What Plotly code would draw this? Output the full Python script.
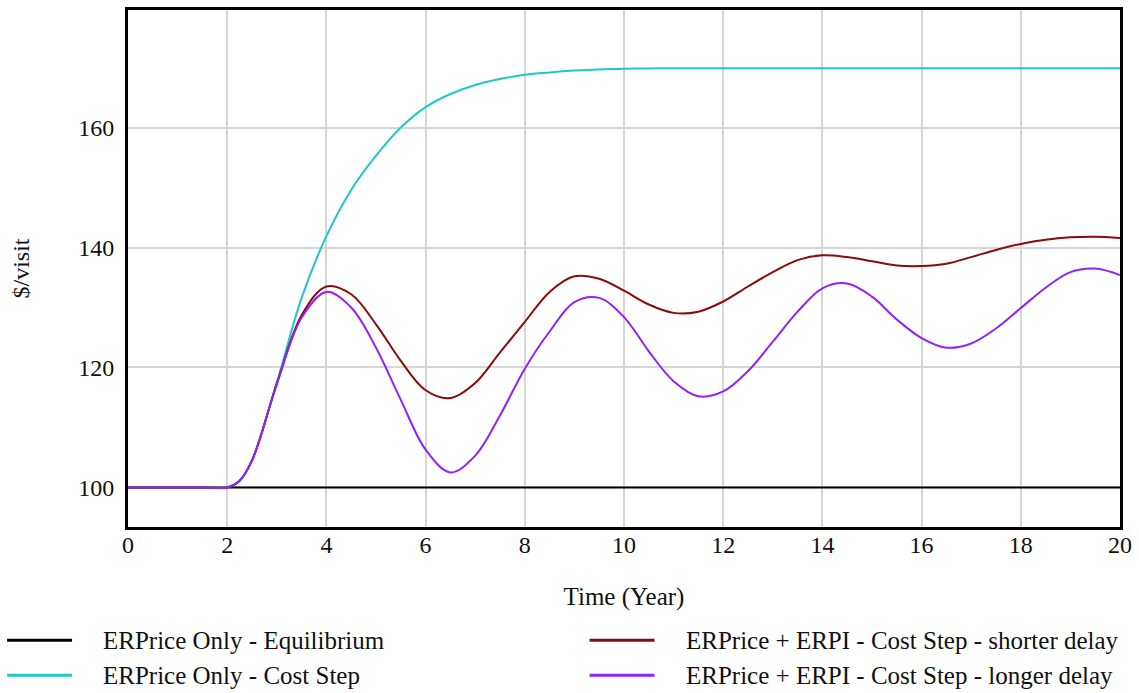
import plotly.graph_objects as go

# Simulation output, sampled every half year (extra sample just after the step at t=2)
time = [0, 0.5, 1, 1.5, 2, 2.25, 2.5, 3, 3.5, 4, 4.5, 5, 5.5, 6, 6.5, 7, 7.5, 8, 8.5, 9,
        9.5, 10, 10.5, 11, 11.5, 12, 12.5, 13, 13.5, 14, 14.5, 15, 15.5, 16, 16.5, 17,
        17.5, 18, 18.5, 19, 19.5, 20]

equilibrium = [100] * len(time)

cost_step = [100, 100, 100, 100, 100, 101.1, 104.5, 117.5, 131.6, 141.9, 149.6, 155.3,
             160.0, 163.4, 165.6, 167.1, 168.1, 168.8, 169.2, 169.5, 169.7, 169.8, 169.85,
             169.9, 169.9, 169.9, 169.9, 169.9, 169.9, 169.9, 169.9, 169.9, 169.9, 169.9,
             169.9, 169.9, 169.9, 169.9, 169.9, 169.9, 169.9, 169.9]

shorter_delay = [100, 100, 100, 100, 100, 101.1, 104.5, 117.3, 128.7, 133.5, 132.2, 127.2,
                 121.1, 116.2, 114.9, 117.4, 122.5, 127.6, 132.6, 135.2, 134.8, 132.8,
                 130.5, 129.1, 129.3, 131.0, 133.5, 135.9, 137.9, 138.7, 138.4, 137.7,
                 137.0, 136.9, 137.3, 138.4, 139.6, 140.6, 141.3, 141.7, 141.8, 141.6]

longer_delay = [100, 100, 100, 100, 100, 101.1, 104.5, 117.2, 128.3, 132.6, 130.0, 123.3,
                114.6, 106.3, 102.5, 105.3, 112.0, 119.8, 126.0, 130.9, 131.6, 128.4,
                122.7, 117.7, 115.2, 116.0, 119.4, 124.3, 129.3, 133.2, 134.0, 131.8,
                128.0, 124.9, 123.3, 124.0, 126.5, 129.9, 133.3, 135.9, 136.5, 135.4]

names = ["ERPrice Only - Equilibrium", "ERPrice Only - Cost Step",
         "ERPrice + ERPI - Cost Step - shorter delay", "ERPrice + ERPI - Cost Step - longer delay"]
colors = ["#000000", "#1ec8c8", "#8b0a0a", "#8f22ff"]
series = [equilibrium, cost_step, shorter_delay, longer_delay]

x_ticks = list(range(0, 21, 2))
y_ticks = [100, 120, 140, 160]

W, H = 1139, 693
L, R, T, B = 128, 18, 7, 166
FONT = "Liberation Serif, Times New Roman, serif"

fig = go.Figure()
for name, color, ys in zip(names, colors, series):
    fig.add_trace(go.Scatter(
        x=time, y=ys, name=name, mode="lines",
        line=dict(color=color, width=2, shape="spline", smoothing=1.0),
        showlegend=False,
    ))

# Legend drawn below the plot: two columns, long line samples
pw, ph = W - L - R, H - T - B


def px_x(px):
    return (px - L) / pw


def px_y(py):
    return (H - B - py) / ph


legend_slots = [(7, 72, 101, 641), (7, 72, 101, 676), (590, 655, 685, 641), (590, 655, 685, 676)]
shapes = []
annotations = []
for (x0, x1, xt, yc), name, color in zip(legend_slots, names, colors):
    shapes.append(dict(type="line", xref="paper", yref="paper",
                       x0=px_x(x0), x1=px_x(x1), y0=px_y(yc), y1=px_y(yc),
                       line=dict(color=color, width=3)))
    annotations.append(dict(xref="paper", yref="paper", x=px_x(xt), y=px_y(yc),
                            text=name, showarrow=False, xanchor="left", yanchor="middle",
                            font=dict(family=FONT, size=25, color="#111111")))

fig.update_layout(
    width=W, height=H,
    margin=dict(l=L, r=R, t=T, b=B),
    paper_bgcolor="white", plot_bgcolor="white",
    font=dict(family=FONT, size=24, color="#111111"),
    shapes=shapes, annotations=annotations,
    xaxis=dict(range=[0, 20], tickvals=x_ticks, showgrid=True, gridcolor="#d6d6d6",
               gridwidth=1.5, zeroline=False, showline=True, linecolor="black",
               linewidth=3, mirror=True, ticks="", ticklabelstandoff=-6,
               title=dict(text="Time (Year)", standoff=31, font=dict(size=25))),
    yaxis=dict(range=[93.4, 179.6], tickvals=y_ticks, showgrid=True, gridcolor="#d6d6d6",
               gridwidth=1.5, zeroline=False, showline=True, linecolor="black",
               linewidth=3, mirror=True, ticks="", ticklabelstandoff=6,
               title=dict(text="$/visit", standoff=42, font=dict(size=24))),
)

fig.write_html("out.html")
